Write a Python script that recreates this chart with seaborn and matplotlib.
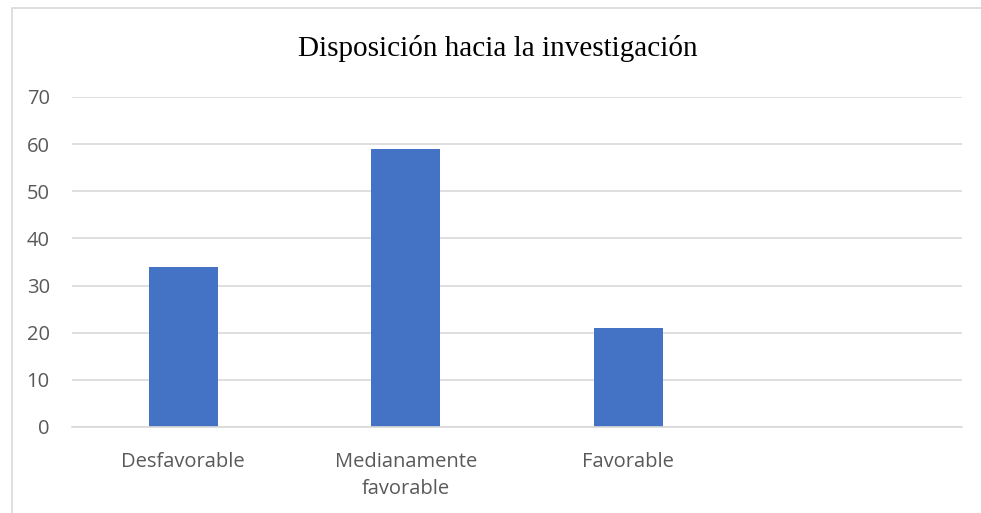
import pandas as pd
import matplotlib.pyplot as plt
import seaborn as sns
from matplotlib.patches import Rectangle

# Data
categorias = ['Desfavorable', 'Medianamente\nfavorable', 'Favorable']
valores = [34, 59, 21]
orden = categorias + ['']  # empty fourth slot as in the original
y_ticks = [0, 10, 20, 30, 40, 50, 60, 70]

df = pd.DataFrame({'categoria': categorias, 'valor': valores})

sns.set_theme(style="white")
plt.rcParams['font.family'] = ['Open Sans', 'DejaVu Sans']

fig = plt.figure(figsize=(9.81, 5.13), dpi=100)
ax = fig.add_axes([72 / 981, 1 - 427 / 513, 890 / 981, 330 / 513])

sns.barplot(data=df, x='categoria', y='valor', order=orden, color='#4472C4',
            saturation=1, width=0.31, linewidth=0, ax=ax)

ax.set_ylim(0, 70)
ax.set_yticks(y_ticks)
ax.yaxis.grid(True, color='#d9d9d9', linewidth=1.2)
ax.set_axisbelow(True)
for s in ['top', 'right', 'left']:
    ax.spines[s].set_visible(False)
ax.spines['bottom'].set_color('#d9d9d9')
ax.spines['bottom'].set_linewidth(1.2)
ax.tick_params(axis='both', length=0, labelsize=14.5, colors='#595959')
ax.tick_params(axis='x', pad=18)
ax.tick_params(axis='y', pad=16)
for lbl in ax.get_xticklabels():
    lbl.set_linespacing(1.45)
ax.set_xlabel('')
ax.set_ylabel('')

fig.text(0.507, 1 - 49 / 513, 'Disposición hacia la investigación', ha='center',
         va='center', fontsize=21, family=['Liberation Serif'], color='black')

# chart frame
fig.patches.append(Rectangle((12 / 981, -0.1), 1.1, 1 - 8 / 513 + 0.1,
                             transform=fig.transFigure, fill=False,
                             edgecolor='#d9d9d9', linewidth=1.2))

fig.savefig('out.png', dpi=100)
